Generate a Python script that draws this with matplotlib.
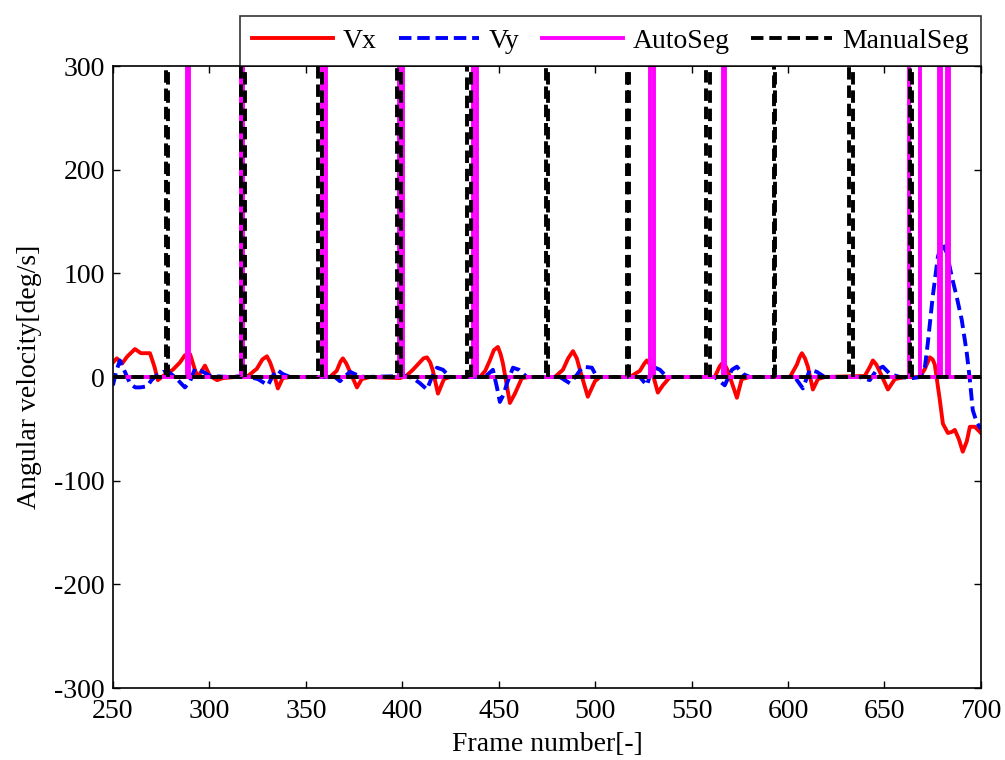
import numpy as np
import matplotlib
matplotlib.use("Agg")
import matplotlib.pyplot as plt

# angular velocity
vx_frame = [250, 252, 254.7, 257.5, 261.4, 264.5, 269.2, 271.5, 273.3, 276, 281, 284.7,
            287.3, 290, 292.5, 294, 297.7, 300.3, 304, 307, 313, 320, 324.6, 327.5, 329.8,
            331.5, 333, 335.5, 338, 341.8, 362.5, 366, 368, 369.2, 371, 372.9, 376.5, 379,
            383.2, 398.8, 402, 405.5, 409, 411, 412.8, 414.5, 415.9, 418.5, 421.6, 424.7,
            440.3, 443, 445.4, 447.5, 449.6, 451, 452.2, 455.8, 458.4, 462, 466.2, 479.1,
            483.3, 486, 488.5, 490.5, 492.1, 496.2, 499.9, 502.5, 518, 523.2, 525.5, 526.8,
            528.5, 529.4, 532.5, 535.1, 538.8, 562, 564.5, 565.7, 567.5, 568.8, 573.5, 576,
            580.2, 601, 604.6, 606, 607.2, 608.8, 610.3, 612.9, 615.5, 619, 639.8, 642.5,
            644, 645.8, 647.6, 651.8, 655.4, 660.6, 668.4, 671, 673.5, 675, 676.1, 678.7,
            680.3, 682.9, 684.9, 686.5, 688.6, 690.6, 692.7, 694.3, 696.9, 699.5, 700]
vx = [14, 18, 13, 20, 27, 23, 23, 10, -3, 1, 7, 14,
      21, 22, 7, 0, 11, 1, -3, -1, 0, 1, 8, 17, 20,
      14, 6, -11, -1, 0, 0, 6, 15, 18, 13, 5, -10, -2,
      0, -1, 1, 7, 14, 18, 19, 14, 6, -16, -2, 0,
      0, 6, 16, 26, 29, 22, 13, -25, -16, -1, 0, 0,
      7, 18, 25, 18, 7, -19, -4, 0, 0, 6, 13, 16,
      12, 6, -15, -8, 0, 0, 10, 13, 11, 6, -20, -2,
      0, 0, 12, 19, 23, 18, 10, -12, -2, 0, 1, 10,
      16, 12, 5, -12, -2, 0, 0, 8, 19, 17, 12, -22,
      -45, -54, -53, -51, -60, -72, -62, -48, -48, -53, -54]

vy_frame = [250, 251.6, 253.6, 256.2, 258.8, 261.5, 264, 267.6, 270, 272.8, 276, 279.5,
            283.2, 287.3, 290, 292.5, 296.7, 300.3, 310.7, 318.4, 325.2, 327.8, 330.4,
            332.5, 335, 338, 341.8, 365.1, 367.7, 370.5, 372.9, 376.5, 380.6, 401.4, 405.5,
            409.2, 412.8, 415.4, 418, 421.1, 424.7, 442.8, 447, 449.1, 450.6, 452.5, 454.3,
            457.4, 460.5, 464.6, 481.7, 486.9, 490.5, 493.6, 498.3, 500.9, 523.2, 526.8,
            529.9, 533.6, 537.2, 562, 567.2, 570.9, 573.5, 576.6, 580.2, 603.5, 607.7,
            611.3, 614.9, 619, 637.2, 642.4, 646, 649.2, 652.8, 658, 664.7, 668.4, 671,
            672.5, 675, 677.7, 679.8, 682.3, 684.9, 687.5, 690.1, 692.7, 694.3, 695.8,
            697.9, 700]
vy = [-8, 5, 16, 5, -6, -10, -10, -9, -3, 2, 5, 4,
      -2, -10, -4, 8, 5, 1, 0, 1, -2, -5, -8,
      0, 7, 3, 0, 0, -4, 1, 5, 2, 0, 1, -1,
      -6, -12, 0, 9, 7, 0, 0, 7, -10, -24, -17, -6,
      9, 7, 0, 0, -6, 2, 10, 9, 0, 0, -8,
      10, 7, 0, 0, -8, 7, 10, 3, 0, 0, -11,
      7, 5, 0, 0, -3, 7, 10, 3, 0, -1, 0, 10,
      33, 77, 116, 129, 120, 97, 77, 55, 23, -3, -32,
      -44, -50]

# segmentation markers (frames where the pulse is high)
auto_frames = [289, 317, 359, 360, 399, 400, 437, 438, 529, 530, 567,
               663, 664, 665, 666, 667, 668, 679, 683]
manual_frames = [278, 317, 318, 357, 358, 398, 399, 434, 435, 475, 517,
                 558, 559, 593, 632, 633, 664]
pulse_height = 500
frames = np.arange(250, 701)


def pulse(on_frames):
    y = np.zeros(len(frames))
    y[np.isin(frames, on_frames)] = pulse_height
    return y


def main():
    plt.rcParams["font.family"] = ["Liberation Serif", "DejaVu Serif"]
    plt.rcParams["axes.unicode_minus"] = False
    fig = plt.figure(figsize=(10.05, 7.6), dpi=100)
    ax = fig.add_axes([0.1124, 0.0947, 0.8636, 0.8184])

    lw = 2.8
    dash = (3.2, 1.5)
    ax.plot(vx_frame, vx, color="red", lw=lw, label="Vx")
    ax.plot(vy_frame, vy, color="blue", lw=lw, ls="--", dashes=dash, label="Vy")
    ax.plot(frames, pulse(auto_frames), color="magenta", lw=lw,
            drawstyle="steps-mid", label="AutoSeg")
    ax.plot(frames, pulse(manual_frames), color="black", lw=lw, ls="--", dashes=dash,
            drawstyle="steps-mid", label="ManualSeg")

    ax.set_xlim(250, 700)
    ax.set_ylim(-300, 300)
    ax.set_xticks(range(250, 701, 50))
    ax.set_yticks(range(-300, 301, 100))
    ax.tick_params(direction="in", top=True, right=True, length=5, width=1,
                   labelsize=20)
    ax.tick_params(axis="x", pad=8)
    ax.tick_params(axis="y", pad=6)
    for s in ax.spines.values():
        s.set_linewidth(1.2)

    ax.set_xlabel("Frame number[-]", fontsize=20, labelpad=6)
    ax.set_ylabel("Angular velocity[deg/s]", fontsize=20, labelpad=9)

    leg = ax.legend(loc="lower right", bbox_to_anchor=(1.0, 1.0), ncol=4,
                    fontsize=20, frameon=True, fancybox=False, edgecolor="black",
                    handlelength=2.9, handletextpad=0.35, columnspacing=0.8,
                    borderaxespad=0, borderpad=0.45)
    leg.get_frame().set_linewidth(1.2)

    fig.savefig("out.png", dpi=100)
    plt.close(fig)


if __name__ == "__main__":
    main()
